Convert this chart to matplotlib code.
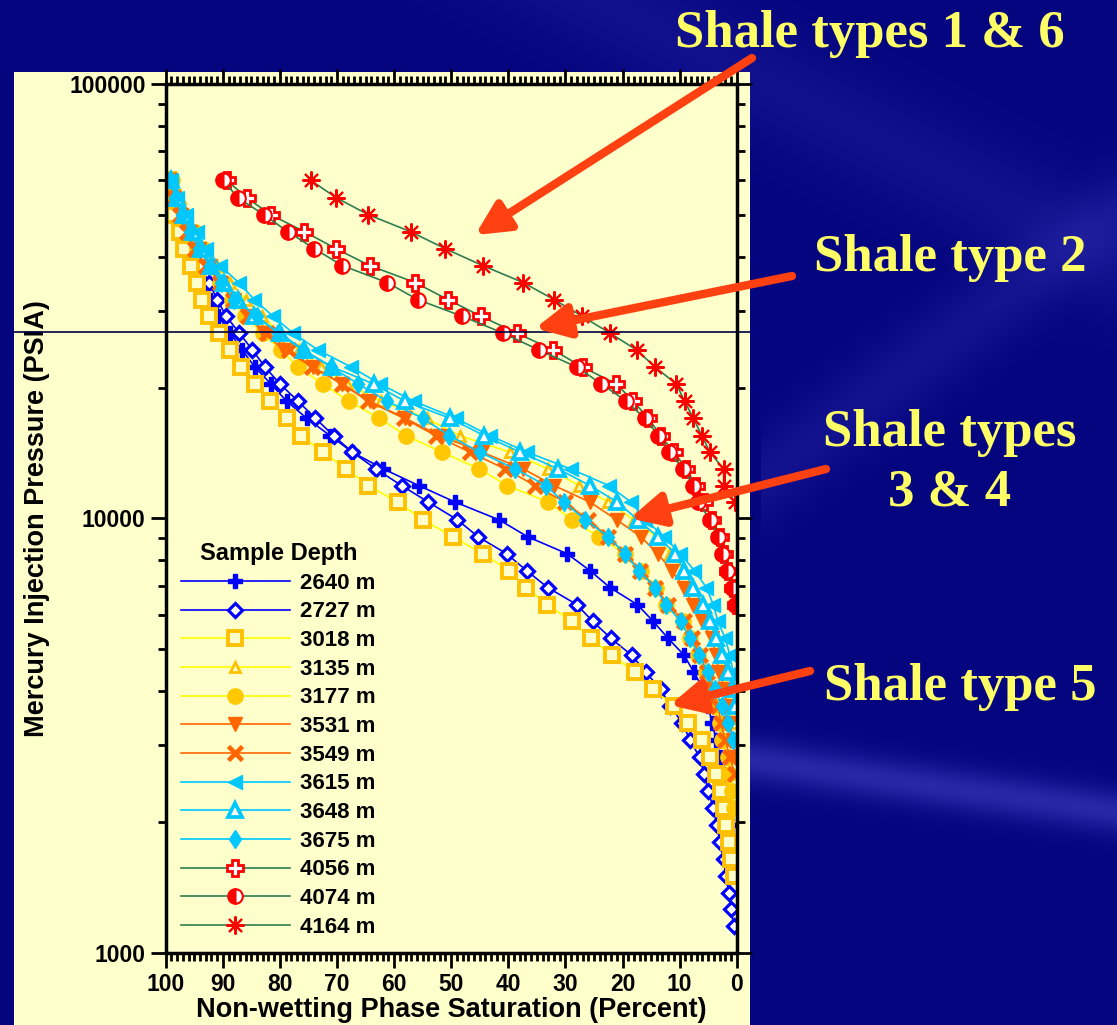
import numpy as np
import matplotlib.pyplot as plt
from matplotlib.patches import Rectangle
from matplotlib.ticker import LogLocator, NullFormatter, FuncFormatter, MultipleLocator

plt.rcParams['font.family'] = ['Liberation Sans', 'DejaVu Sans']
plt.rcParams['font.weight'] = 'bold'

# injection pressure steps (psia), same schedule for every sample
pressure = [60000, 54700, 50000, 45700, 41800, 38200, 34900, 31900, 29200, 26700,
            24400, 22300, 20400, 18600, 17000, 15500, 14200, 13000, 11900, 10900,
            9920, 9070, 8290, 7580, 6930, 6330, 5790, 5290, 4840, 4420,
            4040, 3690, 3380, 3090, 2820, 2580, 2360, 2150, 1970, 1800,
            1640, 1500, 1370, 1260, 1150]

# non-wetting phase saturation (%) at each step
sat_2640 = [99.8, 99.8, 99.0, 97.5, 95.7, 94.3, 93.4, 92.2, 90.8, 88.7,
            86.6, 84.4, 81.6, 78.8, 75.3, 71.2, 67.3, 61.9, 55.7, 49.3,
            41.6, 36.6, 29.7, 25.7, 22.2, 17.4, 14.6, 12.0, 9.2, 7.5,
            5.8, 5.0, 4.3, 3.6, 2.9, 2.4, 1.9, 1.3, 0.8, 0.3]
sat_2727 = [99.6, 98.9, 98.0, 97.2, 96.2, 94.1, 92.4, 91.0, 89.4, 87.1,
            84.8, 82.6, 80.0, 76.8, 73.8, 70.6, 67.3, 63.2, 58.7, 54.0,
            48.9, 45.3, 40.3, 36.8, 33.1, 28.0, 25.2, 22.0, 18.4, 15.9,
            13.3, 11.6, 9.5, 8.2, 6.5, 5.7, 5.0, 4.1, 3.5, 2.9,
            2.3, 1.9, 1.3, 1.0, 0.5]
sat_3018 = [99.6, 98.7, 98.5, 97.5, 96.8, 95.6, 94.5, 93.7, 92.4, 90.7,
            88.7, 86.8, 84.4, 81.7, 78.7, 76.3, 72.5, 68.4, 64.5, 59.4,
            54.9, 49.7, 44.5, 39.8, 36.9, 33.2, 28.8, 25.6, 21.9, 17.8,
            14.6, 11.0, 8.6, 6.0, 4.6, 3.6, 2.7, 2.2, 1.8, 1.4,
            1.0, 0.4]
sat_3135 = [99.0, 97.5, 96.3, 94.8, 93.0, 91.0, 88.7, 86.0, 83.2, 80.0,
            76.6, 72.8, 68.2, 62.3, 54.3, 48.5, 39.7, 33.1, 27.6, 22.5,
            18.0, 14.1, 11.6, 9.4, 7.6, 5.9, 4.7, 3.8, 2.9, 2.2,
            1.7, 1.2, 0.6]
sat_3177 = [98.9, 98.4, 96.8, 94.9, 93.5, 92.1, 90.5, 88.4, 86.1, 83.0,
            79.8, 76.8, 72.5, 67.9, 62.6, 57.9, 51.6, 45.1, 40.2, 33.0,
            28.8, 24.2, 19.6, 16.8, 14.1, 12.3, 9.4, 8.2, 6.7, 5.4,
            4.5, 3.9, 2.9, 2.5, 1.6, 1.4, 0.9, 0.4]
sat_3531 = [99.2, 98.5, 97.3, 95.8, 94.2, 92.3, 90.3, 88.0, 85.6, 82.8,
            79.3, 74.2, 69.1, 64.2, 58.1, 52.0, 44.6, 37.4, 32.0, 25.7,
            21.0, 16.8, 13.8, 11.4, 9.2, 7.7, 6.0, 4.4, 3.6, 3.1,
            2.0, 1.8, 1.2, 0.6, 0.2]
sat_3549 = [99.2, 98.6, 97.5, 96.3, 94.8, 93.0, 90.5, 88.2, 85.6, 82.3,
            78.4, 74.3, 69.2, 64.5, 58.3, 52.7, 46.7, 40.6, 35.3, 30.1,
            26.0, 22.5, 19.6, 16.9, 14.3, 12.0, 9.2, 7.8, 6.4, 5.2,
            4.2, 3.2, 2.8, 2.0, 1.2, 0.3]
sat_3615 = [99.0, 98.0, 96.5, 94.6, 92.9, 90.5, 87.2, 84.5, 81.2, 77.7,
            73.3, 67.5, 62.5, 56.5, 49.2, 43.2, 36.7, 29.1, 22.4, 18.5,
            16.0, 12.7, 9.9, 7.4, 5.3, 4.1, 3.3, 2.0, 1.2, 0.6,
            0.2]
sat_3648 = [99.0, 98.0, 96.8, 95.3, 93.8, 92.0, 89.8, 87.3, 84.5, 80.0,
            75.8, 70.8, 63.6, 58.1, 50.2, 44.2, 37.9, 31.3, 25.7, 20.9,
            17.3, 13.8, 10.8, 9.2, 7.6, 5.9, 4.7, 3.6, 2.6, 1.5,
            0.8, 0.3]
sat_3675 = [99.2, 98.3, 97.2, 95.8, 94.2, 92.3, 90.3, 88.0, 84.0, 80.3,
            76.0, 71.0, 66.3, 61.2, 55.0, 50.3, 45.0, 38.8, 33.4, 30.3,
            26.5, 22.5, 19.6, 17.1, 14.3, 12.4, 9.8, 8.2, 6.6, 5.0,
            3.8, 2.6, 1.5, 0.7]
sat_4056 = [89.3, 85.8, 81.6, 75.7, 70.2, 64.3, 56.3, 50.6, 44.8, 38.5,
            32.1, 27.0, 21.1, 18.1, 15.5, 13.3, 11.0, 8.8, 7.2, 5.7,
            4.3, 2.9, 2.2, 1.5, 0.7, 0.1]
sat_4074 = [90.0, 87.3, 82.8, 78.6, 74.0, 69.1, 61.2, 55.9, 48.1, 40.9,
            34.6, 28.0, 23.7, 19.3, 16.1, 13.7, 11.8, 9.4, 7.6, 6.7,
            4.7, 3.2, 2.5, 1.7, 0.9, 0.3]
sat_4164 = [74.6, 70.1, 64.5, 57.1, 51.1, 44.5, 37.4, 32.0, 27.1, 22.2,
            17.5, 14.3, 10.6, 9.1, 7.6, 6.1, 4.7, 2.3, 2.3, 0.3]

depths = ['2640 m', '2727 m', '3018 m', '3135 m', '3177 m', '3531 m', '3549 m',
          '3615 m', '3648 m', '3675 m', '4056 m', '4074 m', '4164 m']
curves = [sat_2640, sat_2727, sat_3018, sat_3135, sat_3177, sat_3531, sat_3549,
          sat_3615, sat_3648, sat_3675, sat_4056, sat_4074, sat_4164]

BLUE, GOLD, YEL, ORG, CYAN, RED, GRN = ('#0000FF', '#FFC000', '#FFFF00', '#FF6600',
                                        '#00C8FF', '#FF0000', '#2E7D4F')
styles = [
    dict(color=BLUE, marker='P', ms=10.5, mfc=BLUE, mec=BLUE),
    dict(color=BLUE, marker='D', ms=7, mfc='white', mec=BLUE, mew=2.3),
    dict(color=YEL, marker='s', ms=9.5, mfc='#FFFFCC', mec=GOLD, mew=2.8),
    dict(color=YEL, marker='^', ms=7, mfc='#FFFFCC', mec=GOLD, mew=2),
    dict(color=YEL, marker='o', ms=11, mfc='#FFC800', mec='#FFC800'),
    dict(color=ORG, marker='v', ms=10.5, mfc=ORG, mec=ORG),
    dict(color=ORG, marker='x', ms=9.5, mec=ORG, mew=3.3),
    dict(color=CYAN, marker='<', ms=10.5, mfc=CYAN, mec=CYAN),
    dict(color=CYAN, marker='^', ms=9.5, mfc='white', mec=CYAN, mew=2.7),
    dict(color=CYAN, marker='d', ms=9.5, mfc=CYAN, mec=CYAN),
    dict(color=GRN, marker='P', ms=11, mfc='white', mec=RED, mew=2),
    dict(color=GRN, marker='o', ms=10.5, mfc=RED, mec=RED, fillstyle='left',
         markerfacecoloralt='white', mew=1.5),
    dict(color=GRN, marker=(8, 2, 0), ms=13, mec=RED, mew=1.5),
]

W, H = 1117, 1025
fig = plt.figure(figsize=(W / 100, H / 100), dpi=100)

# navy slide background with a couple of faint diagonal streaks
bg = fig.add_axes([0, 0, 1, 1], zorder=-10)
yy, xx = np.mgrid[0:H, 0:W]
light = (0.45 * np.exp(-((yy - (0.14 * xx + 655)) / 22.0) ** 2) * (xx > 740)
         + 0.18 * np.exp(-((yy - (-0.75 * xx + 1050)) / 45.0) ** 2) * (xx > 760)
         + 0.15 * np.exp(-((yy - (0.5 * xx - 300)) / 60.0) ** 2))
img = np.dstack([0.02 + 0.3 * light, 0.02 + 0.3 * light, 0.50 + 0.35 * light])
bg.imshow(np.clip(img, 0, 1), extent=[0, W, H, 0], aspect='auto')
bg.set_xlim(0, W)
bg.set_ylim(H, 0)
bg.axis('off')

# pale yellow chart panel
fig.add_artist(Rectangle((14 / W, 0), 736 / W, 953 / H, transform=fig.transFigure,
                         facecolor='#FFFFCC', edgecolor='none', zorder=-5))

ax = fig.add_axes([165.7 / W, 1 - 952.7 / H, 571 / W, 868.7 / H])
ax.set_facecolor('none')

for label, sat, st in zip(depths, curves, styles):
    ax.plot(sat, pressure[:len(sat)], lw=1.2, label=label, **st)

ax.axhline(26900, xmin=-0.2657, xmax=1.0233, color='#000040', lw=1.2, clip_on=False)

ax.set_yscale('log')
ax.set_ylim(1000, 100000)
ax.set_xlim(100, 0)
ax.xaxis.set_major_locator(MultipleLocator(10))
ax.xaxis.set_minor_locator(MultipleLocator(1))
ax.yaxis.set_major_locator(LogLocator(base=10))
ax.yaxis.set_minor_locator(LogLocator(base=10, subs=np.arange(2, 10)))
ax.yaxis.set_minor_formatter(NullFormatter())
ax.yaxis.set_major_formatter(FuncFormatter(lambda v, p: '%d' % round(v)))
ax.tick_params(which='both', direction='out', top=True, right=True, width=2,
               labelsize=16.5, colors='black')
ax.tick_params(which='major', length=11)
ax.tick_params(which='minor', length=6)
for s in ax.spines.values():
    s.set_linewidth(2.5)

ax.set_xlabel('Non-wetting Phase Saturation (Percent)', fontsize=19.5,
              fontweight='bold', labelpad=1)
ax.set_ylabel('Mercury Injection Pressure (PSIA)', fontsize=19.5,
              fontweight='bold', labelpad=14)

leg = ax.legend(title='Sample Depth', loc='upper left',
                bbox_to_anchor=(181 / W, 1 - 542 / H), bbox_transform=fig.transFigure,
                frameon=False, borderpad=0, borderaxespad=0, handlelength=4.9,
                handletextpad=0.45, labelspacing=0.345, fontsize=16, title_fontsize=17)
leg.get_title().set_fontweight('bold')

# shale type callouts
note = dict(color='#FFFF66', fontsize=38, fontweight='bold',
            family=['Liberation Serif', 'DejaVu Serif'], ha='center', va='center')
fig.text(870 / W, 1 - 34 / H, 'Shale types 1 & 6', **note)
fig.text(950 / W, 1 - 258 / H, 'Shale type 2', **note)
fig.text(950 / W, 1 - 433 / H, 'Shale types', **note)
fig.text(950 / W, 1 - 493 / H, '3 & 4', **note)
fig.text(960 / W, 1 - 687 / H, 'Shale type 5', **note)

arrow = dict(arrowstyle='-|>,head_length=2.0,head_width=1.0', color='#FF4010',
             lw=6, shrinkA=0, shrinkB=0, mutation_scale=10)
for tip, tail in [((45.8, 44900), (752, 58)), ((35.3, 27400), (792, 276)),
                  ((18.7, 10000), (826, 469)), ((11.7, 3715), (810, 671))]:
    ax.annotate('', xy=tip, xycoords='data', xytext=(tail[0], H - tail[1]),
                textcoords='figure pixels', arrowprops=arrow, annotation_clip=False)

fig.savefig('out.png', dpi=100)
